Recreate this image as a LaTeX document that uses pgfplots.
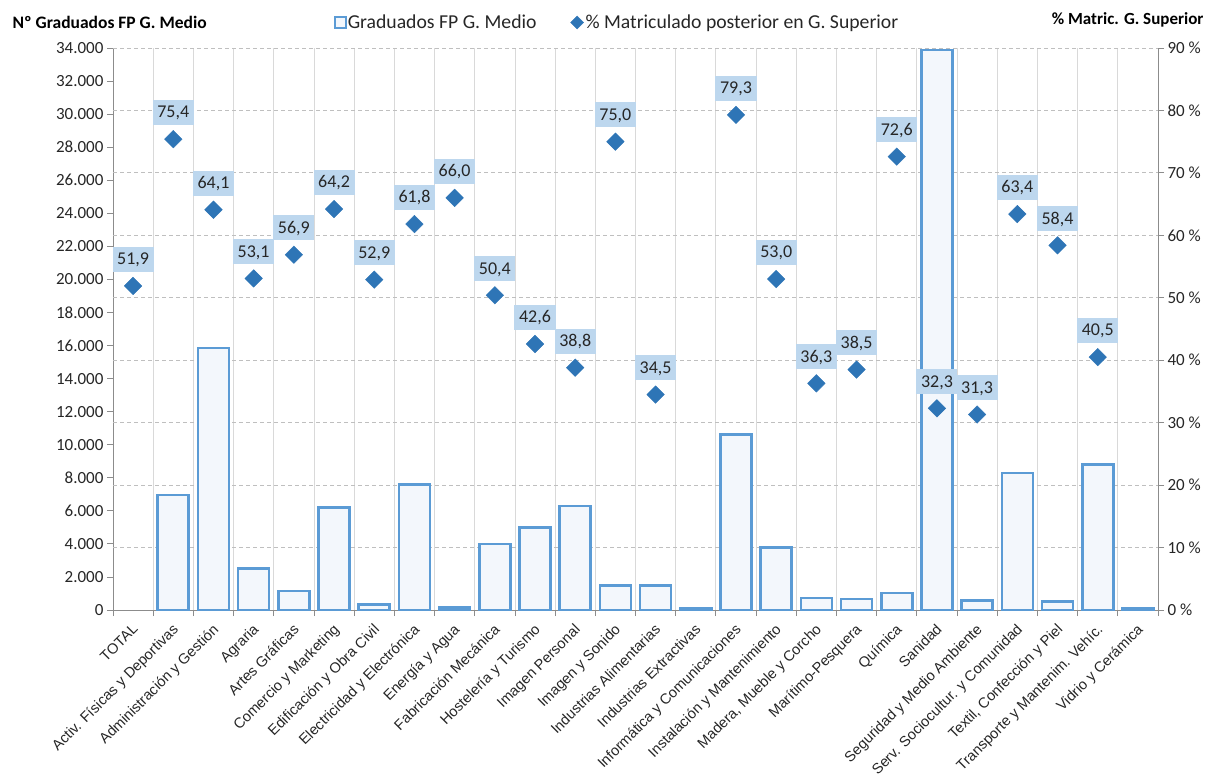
\documentclass[border=0pt]{standalone}
\usepackage{fontspec}
\setmainfont{Carlito}
\newfontfamily\arialfont{Liberation Sans}
\usepackage{pgfplots}
\pgfplotsset{compat=1.18}

\definecolor{barblue}{HTML}{5B9BD5}
\definecolor{barfill}{HTML}{F3F7FC}
\definecolor{dotblue}{HTML}{2E75B6}
\definecolor{labfill}{HTML}{BDD7EE}
\definecolor{axgray}{HTML}{8C8C8C}
\definecolor{vgrid}{HTML}{D9D9D9}
\definecolor{hgrid}{HTML}{BFBFBF}
\definecolor{txt}{HTML}{262626}

\newcommand{\fs}[1]{\fontsize{#1}{#1}\selectfont}

\pgfplotsset{
  base/.style={
    scale only axis, width=1045pt, height=562pt,
    xmin=-0.5, xmax=25.5,
    /pgf/number format/assume math mode=true,
    tick style={axgray, line width=0.8pt},
    ticklabel style={font=\fs{17}, text=txt},
    tick align=outside,
    major tick length=6pt, minor tick length=6pt,
    axis line style={axgray, line width=1pt, -},
  }
}

\begin{document}
\begin{tikzpicture}
% bars: graduates, left axis
\begin{axis}[base, name=ax,
  ymin=0, ymax=34000,
  axis x line*=bottom, axis y line*=left,
  ytick={0,2000,...,34000},
  scaled y ticks=false,
  yticklabel style={/pgf/number format/.cd, 1000 sep={.}},
  xtick={0,...,25},
  major x tick style={draw=none},
  minor xtick={-0.5,0.5,...,25.5},
  xminorgrids=true,
  minor grid style={vgrid, line width=0.8pt},
  extra y ticks={3777.78,7555.56,11333.33,15111.11,18888.89,22666.67,26444.44,30222.22,34000},
  extra y tick labels={},
  extra y tick style={grid=major, major tick length=0pt},
  major grid style={hgrid, line width=0.8pt, dash pattern=on 4pt off 3pt},
  xticklabel style={font=\arialfont\fs{14.6}, rotate=45, anchor=north east, inner sep=1pt, xshift=-5pt, yshift=-2.5pt},
  xticklabels={TOTAL, Activ. Físicas y Deportivas, Administración y Gestión, Agraria,
    Artes Gráficas, Comercio y Marketing, Edificación y Obra Civil, Electricidad y Electrónica,
    Energía y Agua, Fabricación Mecánica, Hostelería y Turismo, Imagen Personal,
    Imagen y Sonido, Industrias Alimentarias, Industrias Extractivas,
    Informática y Comunicaciones, Instalación y Mantenimiento, {Madera, Mueble y Corcho},
    Marítimo-Pesquera, Química, Sanidad, Seguridad y Medio Ambiente,
    Serv. Sociocultur. y Comunidad, {Textil, Confección y Piel},
    Transporte y Mantenim. Vehíc., Vidrio y Cerámica},
]
\addplot[ybar, bar width=31pt, draw=barblue, fill=barfill, line width=2.6pt] coordinates {
  (1,6950) (2,15850) (3,2500) (4,1150) (5,6200) (6,350) (7,7600) (8,140)
  (9,4000) (10,4980) (11,6300) (12,1480) (13,1480) (14,80) (15,10600) (16,3770)
  (17,720) (18,660) (19,1030) (20,33880) (21,580) (22,8280) (23,520) (24,8820) (25,80)
};
\end{axis}

% diamonds: % enrolled in G. Superior, right axis
\begin{axis}[base,
  ymin=0, ymax=90,
  axis y line*=right, axis x line=none,
  ytick={0,10,...,90},
  yticklabel={\pgfmathprintnumber{\tick} \%},
  legend style={at={(0.5,1)}, anchor=center, yshift=25.5pt, xshift=-18pt,
    draw=none, fill=none, font=\fs{19.7}, text=txt,
    nodes={inner xsep=2pt},
    /tikz/every even column/.append style={column sep=32pt}},
  legend columns=-1,
]
\addlegendimage{only marks, mark=square*, mark size=5.5pt, mark options={draw=barblue, fill=barfill, line width=2pt}}
\addlegendentry{Graduados FP G. Medio}
\addlegendimage{only marks, mark=square*, mark size=4.6pt, mark options={rotate=45, fill=dotblue, draw=dotblue}}
\addlegendentry{\% Matriculado posterior en G. Superior}
\addplot[only marks, mark=square*, mark size=6.2pt,
  mark options={rotate=45, fill=dotblue, draw=dotblue},
  nodes near coords={\pgfmathprintnumber[fixed, fixed zerofill, precision=1, use comma]{\pgfplotspointmeta}},
  nodes near coords style={anchor=south, yshift=14pt, fill=labfill, text=txt,
    font=\fs{18}, inner xsep=4.6pt, inner ysep=5.5pt, text height=12.5pt, text depth=1.5pt},
  forget plot] coordinates {
  (0,51.9) (1,75.4) (2,64.1) (3,53.1) (4,56.9) (5,64.2) (6,52.9) (7,61.8)
  (8,66.0) (9,50.4) (10,42.6) (11,38.8) (12,75.0) (13,34.5) (15,79.3) (16,53.0)
  (17,36.3) (18,38.5) (19,72.6) (20,32.3) (21,31.3) (22,63.4) (23,58.4) (24,40.5)
};
\end{axis}

\node[anchor=west, font=\bfseries\fs{17.5}, text=black] at ([shift={(-104pt,25.3pt)}]ax.north west) {Nº Graduados FP G. Medio};
\node[anchor=east, font=\bfseries\fs{17}, text=black] at ([shift={(49pt,28pt)}]ax.north east) {\% Matric. G. Superior};

\pgfresetboundingbox
\path[use as bounding box] ([shift={(-113pt,-168pt)}]ax.south west) rectangle ([shift={(58pt,48pt)}]ax.north east);
\end{tikzpicture}
\end{document}
